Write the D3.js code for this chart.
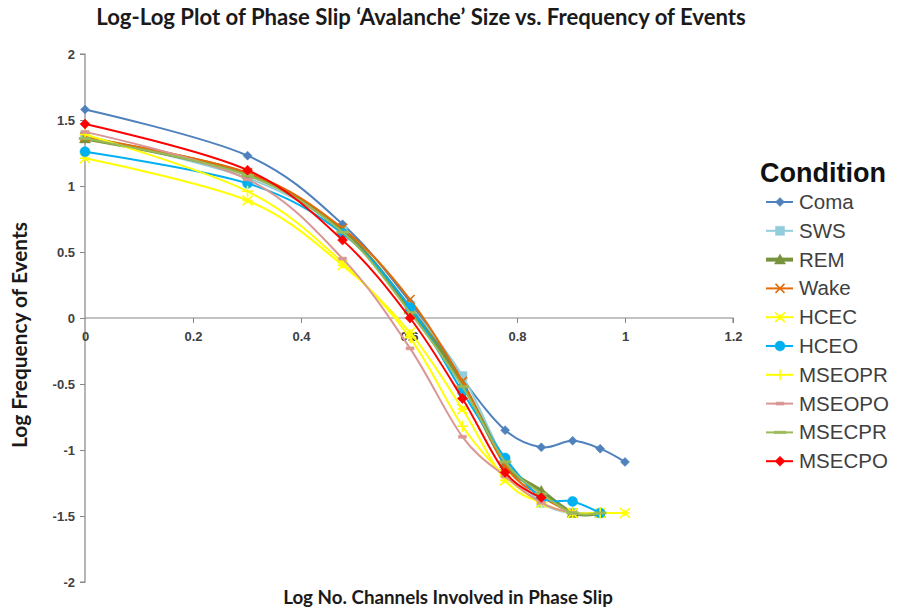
<!DOCTYPE html>
<html>
<head>
<meta charset="utf-8">
<script src="https://cdn.jsdelivr.net/npm/d3@7/dist/d3.min.js"></script>
<style>
  html, body { margin: 0; padding: 0; background: #fff; }
  svg { display: block; }
</style>
</head>
<body>
<svg id="chart" width="900" height="609"></svg>
<script>
// log10 of the number of channels involved (1..10)
const xValues = [0, 0.301, 0.477, 0.602, 0.699, 0.778, 0.845, 0.903, 0.954, 1];

// log10 of event frequency for each condition (null = no events)
const coma   = [1.58, 1.23, 0.71, 0.12, -0.46, -0.85, -0.98, -0.93, -0.99, -1.09];
const sws    = [1.38, 1.06, 0.66, 0.09, -0.44, -1.08, -1.40, -1.477, null, null];
const rem    = [1.36, 1.09, 0.66, 0.07, -0.50, -1.10, -1.31, -1.477, -1.477, null];
const wake   = [1.37, 1.10, 0.68, 0.14, -0.48, -1.12, -1.35, -1.477, null, null];
const hcec   = [1.21, 0.89, 0.40, -0.11, -0.69, -1.23, -1.40, -1.477, -1.477, -1.477];
const hceo   = [1.26, 1.02, 0.64, 0.08, -0.56, -1.06, -1.36, -1.39, -1.477, null];
const mseopr = [1.39, 0.96, 0.42, -0.15, -0.82, -1.20, -1.40, -1.477, -1.477, null];
const mseopo = [1.41, 1.05, 0.45, -0.23, -0.90, -1.20, -1.40, -1.477, null, null];
const msecpr = [1.36, 1.08, 0.65, 0.04, -0.52, -1.09, -1.33, -1.477, -1.477, null];
const msecpo = [1.47, 1.12, 0.59, 0.00, -0.61, -1.17, -1.36, null, null, null];

const seriesNames = ["Coma", "SWS", "REM", "Wake", "HCEC", "HCEO", "MSEOPR", "MSEOPO", "MSECPR", "MSECPO"];
const seriesValues = [coma, sws, rem, wake, hcec, hceo, mseopr, mseopo, msecpr, msecpo];

const xTicks = [0, 0.2, 0.4, 0.6, 0.8, 1, 1.2];
const yTicks = [-2, -1.5, -1, -0.5, 0, 0.5, 1, 1.5, 2];

const titleText = "Log-Log Plot of Phase Slip \u2018Avalanche\u2019 Size vs. Frequency of Events";
const xTitle = "Log No. Channels Involved in Phase Slip";
const yTitle = "Log Frequency of Events";
const legendTitle = "Condition";

// appearance of each series
const styles = {
  "Coma":   { color: "#4F81BD", width: 2,   marker: "diamond", size: 9 },
  "SWS":    { color: "#92CDDC", width: 2,   marker: "square",  size: 9 },
  "REM":    { color: "#77933C", width: 4,   marker: "triangle", size: 11 },
  "Wake":   { color: "#E36C09", width: 2,   marker: "x",       size: 9 },
  "HCEC":   { color: "#FFFF00", width: 2,   marker: "star",    size: 10 },
  "HCEO":   { color: "#00B0F0", width: 2,   marker: "circle",  size: 10 },
  "MSEOPR": { color: "#FFFF00", width: 2,   marker: "plus",    size: 11 },
  "MSEOPO": { color: "#D99694", width: 2,   marker: "dash",    size: 8 },
  "MSECPR": { color: "#9BBB59", width: 2,   marker: "longdash", size: 12 },
  "MSECPO": { color: "#FF0000", width: 2,   marker: "diamond", size: 10 }
};

const svg = d3.select("#chart");
const plot = { left: 85, right: 733, top: 54, bottom: 582 };

const x = d3.scaleLinear().domain([0, 1.2]).range([plot.left, plot.right]);
const y = d3.scaleLinear().domain([-2, 2]).range([plot.bottom, plot.top]);

const tickFont = "'Liberation Sans', Arial, sans-serif";
const titleFont = "Lato, 'Open Sans', sans-serif";

// y axis on the left edge
const yAxis = d3.axisLeft(y).tickValues(yTicks).tickSize(5).tickPadding(5)
  .tickFormat(d => String(d));
const gy = svg.append("g").attr("transform", `translate(${plot.left},0)`).call(yAxis);
gy.select(".domain").attr("stroke", "#868686").attr("stroke-width", 1.2).attr("d", `M-5,${plot.top}H0V${plot.bottom}H-5`);
gy.selectAll(".tick line").attr("stroke", "#868686");
gy.selectAll(".tick text").attr("font-family", tickFont).attr("font-weight", "bold")
  .attr("font-size", 13).attr("fill", "#404040");

// x axis crossing at y = 0
const xAxis = d3.axisBottom(x).tickValues(xTicks).tickSize(5).tickPadding(9)
  .tickFormat(d => String(d));
const gx = svg.append("g").attr("transform", `translate(0,${y(0)})`).call(xAxis);
gx.select(".domain").attr("stroke", "#868686").attr("stroke-width", 1.2).attr("d", `M${plot.left},0H${plot.right}V5`);
gx.selectAll(".tick line").attr("stroke", "#868686");
gx.selectAll(".tick text").attr("font-family", tickFont).attr("font-weight", "bold")
  .attr("font-size", 13).attr("fill", "#404040");
gx.selectAll(".tick").filter(d => d === 0).select("line").remove();

// marker shapes
function markerPath(type, s) {
  const h = s / 2;
  switch (type) {
    case "diamond": return `M0,${-h}L${h},0L0,${h}L${-h},0Z`;
    case "square": return `M${-h},${-h}H${h}V${h}H${-h}Z`;
    case "triangle": return `M0,${-h}L${h},${h * 0.8}L${-h},${h * 0.8}Z`;
    case "circle": return d3.symbol(d3.symbolCircle, Math.PI * h * h)();
    case "x": return `M${-h},${-h}L${h},${h}M${h},${-h}L${-h},${h}`;
    case "plus": return `M${-h},0H${h}M0,${-h}V${h}`;
    case "star": return `M${-h},${-h}L${h},${h}M${h},${-h}L${-h},${h}M${-h},0H${h}M0,${-h * 0.6}V${h * 0.6}`;
    case "dash": return `M${-h},-1.5H${h}V1.5H${-h}Z`;
    case "longdash": return `M${-h},-1.2H${h}V1.2H${-h}Z`;
  }
  return "";
}
const strokeMarkers = new Set(["x", "plus", "star"]);

const line = d3.line()
  .defined(d => d[1] !== null)
  .x(d => x(d[0]))
  .y(d => y(d[1]))
  .curve(d3.curveCardinal.tension(0));

const series = seriesNames.map((name, i) => ({
  name,
  points: xValues.map((xv, j) => [xv, seriesValues[i][j]]).filter(p => p[1] !== null)
}));

const gLines = svg.append("g");
series.forEach(s => {
  const st = styles[s.name];
  const g = gLines.append("g");
  g.append("path").attr("d", line(s.points)).attr("fill", "none")
    .attr("stroke", st.color).attr("stroke-width", st.width)
    .attr("stroke-linejoin", "round").attr("stroke-linecap", "round");
  g.selectAll("path.m").data(s.points).join("path").attr("class", "m")
    .attr("transform", d => `translate(${x(d[0])},${y(d[1])})`)
    .attr("d", markerPath(st.marker, st.size))
    .attr("fill", strokeMarkers.has(st.marker) ? "none" : st.color)
    .attr("stroke", st.color)
    .attr("stroke-width", strokeMarkers.has(st.marker) ? 1.6 : 0.5);
});

// chart title, scaled to span its width
function fitText(sel, target) {
  const w = sel.node().getComputedTextLength();
  const fs = parseFloat(sel.attr("font-size"));
  sel.attr("font-size", fs * target / w);
}
const title = svg.append("text").attr("x", 421).attr("y", 25).attr("text-anchor", "middle")
  .attr("font-family", titleFont).attr("font-weight", "bold").attr("font-size", 17)
  .attr("fill", "#1a1a1a").text(titleText);
fitText(title, 650);

const xt = svg.append("text").attr("x", 448).attr("y", 604).attr("text-anchor", "middle")
  .attr("font-family", titleFont).attr("font-weight", "bold").attr("font-size", 16)
  .attr("fill", "#1a1a1a").text(xTitle);
fitText(xt, 330);

const yt = svg.append("text").attr("transform", `translate(27,335) rotate(-90)`).attr("text-anchor", "middle")
  .attr("font-family", titleFont).attr("font-weight", "bold").attr("font-size", 17)
  .attr("fill", "#1a1a1a").text(yTitle);
fitText(yt, 226);

// legend
const legend = svg.append("g");
legend.append("text").attr("x", 760).attr("y", 182)
  .attr("font-family", tickFont).attr("font-weight", "bold").attr("font-size", 27)
  .attr("fill", "#111").text(legendTitle);
series.forEach((s, i) => {
  const st = styles[s.name];
  const cy = 202 + i * 28.8;
  const g = legend.append("g").attr("transform", `translate(0,${cy})`);
  g.append("line").attr("x1", 766).attr("x2", 793).attr("y1", 0).attr("y2", 0)
    .attr("stroke", st.color).attr("stroke-width", st.width);
  g.append("path").attr("transform", "translate(780,0)")
    .attr("d", markerPath(st.marker, st.size))
    .attr("fill", strokeMarkers.has(st.marker) ? "none" : st.color)
    .attr("stroke", st.color)
    .attr("stroke-width", strokeMarkers.has(st.marker) ? 1.6 : 0.5);
  g.append("text").attr("x", 799).attr("y", 7)
    .attr("font-family", tickFont).attr("font-size", 20.5)
    .attr("fill", "#404040").text(s.name);
});
</script>
</body>
</html>
